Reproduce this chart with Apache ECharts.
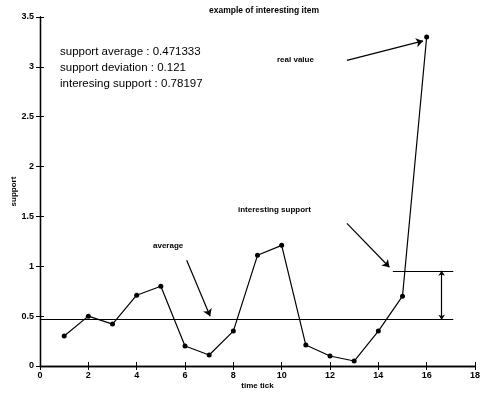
<!DOCTYPE html>
<html><head><meta charset="utf-8">
<script src="https://cdn.jsdelivr.net/npm/echarts@6/dist/echarts.min.js"></script>
<style>html,body{margin:0;padding:0;background:#fff}#c{width:482px;height:393px}</style>
</head><body><div id="c"></div>
<script>
var timeTicks = [1,2,3,4,5,6,7,8,9,10,11,12,13,14,15,16];
var supportValues = [0.30,0.50,0.42,0.71,0.80,0.20,0.11,0.35,1.11,1.21,0.21,0.10,0.05,0.35,0.70,3.30];
var averageLine = [[0,0.465],[17.1,0.465]];
var interestingLine = [[14.6,0.955],[17.1,0.955]];
var gapArrow = [[16.62,0.465],[16.62,0.955]];
var arrowAverage = [[6.07,1.06],[7.04,0.50]];
var arrowInteresting = [[12.7,1.43],[14.46,0.99]];
var arrowReal = [[12.7,3.065],[15.85,3.26]];
var infoLines = ['support average : 0.471333','support deviation : 0.121','interesing support : 0.78197'];
var F = 'Liberation Sans, Arial, sans-serif';
var chart = echarts.init(document.getElementById('c'));
function seg(p, sym, size){
  return [{coord:p[0], symbol:sym[0], symbolSize:size},{coord:p[1], symbol:sym[1], symbolSize:size}];
}
var axisLbl = {color:'#000', fontFamily:F, fontSize:9, fontWeight:'bold'};
chart.setOption({
  animation:false,
  title:{text:'example of interesting item', left:259, top:1, textAlign:'center',
    textStyle:{fontFamily:F, fontSize:8.5, fontWeight:'bold', color:'#000'}},
  grid:{left:40, right:7, top:17, bottom:27, containLabel:false, outerBoundsMode:'none'},
  xAxis:[{type:'value', min:0, max:18, interval:2, name:'time tick', nameLocation:'middle', nameGap:16,
    nameMoveOverlap:false,
    nameTextStyle:{fontFamily:F, fontSize:8, fontWeight:'bold', color:'#000'},
    axisLine:{lineStyle:{color:'#000', width:1.3}}, axisTick:{inside:true, length:4, lineStyle:{color:'#000'}},
    axisLabel:Object.assign({margin:5}, axisLbl), splitLine:{show:false}},
    {type:'value', position:'top', min:0, max:18, interval:2,
    axisLine:{lineStyle:{color:'#000', width:1.3}}, axisTick:{inside:true, length:4, lineStyle:{color:'#000'}},
    axisLabel:{show:false}, splitLine:{show:false}}],
  yAxis:[{type:'value', min:0, max:3.5, interval:0.5, name:'support', nameLocation:'middle', nameGap:22,
    nameMoveOverlap:false,
    nameTextStyle:{fontFamily:F, fontSize:8, fontWeight:'bold', color:'#000'},
    axisLine:{lineStyle:{color:'#000', width:1.3}}, axisTick:{inside:true, length:4, lineStyle:{color:'#000'}},
    axisLabel:Object.assign({margin:6}, axisLbl), splitLine:{show:false}},
    {type:'value', position:'right', min:0, max:3.5, interval:0.5,
    axisLine:{lineStyle:{color:'#000', width:1.3}}, axisTick:{inside:true, length:4, lineStyle:{color:'#000'}},
    axisLabel:{show:false}, splitLine:{show:false}}],
  graphic: infoLines.map(function(t,i){
    return {type:'text', left:60, top:46+i*15.7, style:{text:t, font:'11.5px '+F, fill:'#000'}};
  }).concat([
    {type:'text', left:153, top:242, style:{text:'average', font:'bold 8px '+F, fill:'#000'}},
    {type:'text', left:238, top:206, style:{text:'interesting support', font:'bold 8px '+F, fill:'#000'}},
    {type:'text', left:277, top:56, style:{text:'real value', font:'bold 8px '+F, fill:'#000'}}
  ]),
  series:[{
    type:'line', data:timeTicks.map(function(t,i){return [t, supportValues[i]];}),
    symbol:'circle', symbolSize:5, itemStyle:{color:'#000'},
    lineStyle:{color:'#000', width:1.2},
    markLine:{silent:true, symbolSize:7, animation:false,
      label:{show:false}, lineStyle:{color:'#000', width:1.2, type:'solid'},
      data:[
        seg(averageLine,['none','none'],7),
        seg(interestingLine,['none','none'],7),
        seg(gapArrow,['arrow','arrow'],5),
        seg(arrowAverage,['none','arrow'],7),
        seg(arrowInteresting,['none','arrow'],7),
        seg(arrowReal,['none','arrow'],7)
      ]}
  }]
});
</script></body></html>
